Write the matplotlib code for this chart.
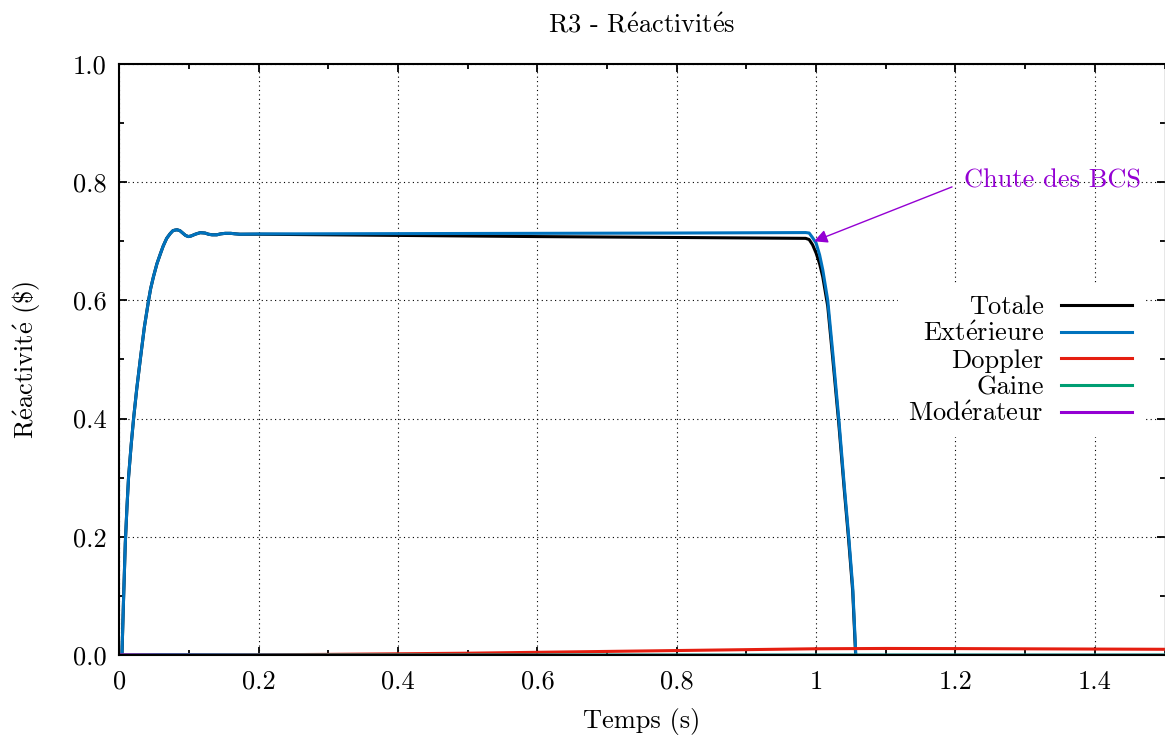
import numpy as np
import matplotlib
matplotlib.use("Agg")
import matplotlib.pyplot as plt
from matplotlib.ticker import MultipleLocator, FuncFormatter

# series (time in s, reactivity in $)
t_main = [0.0, 0.0038, 0.006, 0.0086, 0.011, 0.0133, 0.017, 0.0205, 0.025, 0.030,
          0.036, 0.042, 0.045, 0.049, 0.054, 0.059, 0.063, 0.068, 0.073, 0.077,
          0.080, 0.083, 0.087, 0.091, 0.095, 0.099, 0.103, 0.109, 0.116, 0.123,
          0.128, 0.133, 0.140, 0.145, 0.152, 0.160, 0.165, 0.173, 0.2, 0.4, 0.6,
          0.8, 0.985, 0.990, 0.995, 1.0, 1.005, 1.0095, 1.0167, 1.024, 1.0325,
          1.0405, 1.0468, 1.0525, 1.057, 1.065]
ext = [0.0, 0.0, 0.09, 0.189, 0.25, 0.301, 0.355, 0.400, 0.45, 0.499,
       0.555, 0.600, 0.62, 0.640, 0.662, 0.679, 0.692, 0.705, 0.713, 0.718,
       0.719, 0.7195, 0.718, 0.714, 0.710, 0.708, 0.709, 0.712, 0.7146, 0.714,
       0.712, 0.711, 0.711, 0.7125, 0.7135, 0.7135, 0.7128, 0.712, 0.7125, 0.713, 0.7135,
       0.714, 0.7148, 0.714, 0.706, 0.697, 0.677, 0.652, 0.600, 0.510, 0.400,
       0.285, 0.200, 0.115, 0.0, -0.15]
totale = [0.0, 0.0, 0.09, 0.189, 0.25, 0.301, 0.355, 0.400, 0.45, 0.499,
          0.555, 0.600, 0.62, 0.640, 0.662, 0.679, 0.692, 0.705, 0.713, 0.718,
          0.719, 0.7195, 0.718, 0.714, 0.710, 0.708, 0.709, 0.712, 0.7146, 0.714,
          0.712, 0.711, 0.711, 0.7125, 0.7135, 0.7135, 0.7128, 0.712, 0.712, 0.710, 0.708,
          0.7065, 0.705, 0.703, 0.694, 0.680, 0.662, 0.640, 0.590, 0.500, 0.392,
          0.278, 0.193, 0.108, -0.008, -0.16]

t_slow = [0.0, 0.06, 0.13, 0.2, 0.3, 0.4, 0.5, 0.6, 0.7, 0.8, 0.9, 1.0, 1.1, 1.2, 1.3, 1.4, 1.5]
doppler = [0.0, 0.0, 0.0, 0.0003, 0.001, 0.002, 0.003, 0.0045, 0.006, 0.0075, 0.009,
           0.0105, 0.011, 0.0108, 0.0104, 0.0100, 0.0096]
gaine = [0.0, 0.0006, 0.0004, 0.0001, 0.0, 0.0, 0.0, 0.0, 0.0, 0.0, 0.0,
         0.0, 0.0, 0.0, 0.0, 0.0, 0.0]
moderateur = [0.0, -0.0002, -0.0004, -0.0006, -0.0008, -0.0008, -0.0008, -0.0008, -0.0008,
              -0.0008, -0.0008, -0.0008, -0.0008, -0.0008, -0.0008, -0.0008, -0.0008]

plt.rcParams['font.family'] = ['cmr10', 'DejaVu Serif']
plt.rcParams['font.size'] = 19
plt.rcParams['axes.formatter.use_mathtext'] = True
plt.rcParams['mathtext.fontset'] = 'cm'


def tex(s):
    # cmr10 has no é, so draw it through mathtext with the same font
    return s.replace('$', r'\$').replace('é', r'$\mathrm{\acute{e}}$')


fig = plt.figure(figsize=(11.65, 7.36), dpi=100)
ax = fig.add_axes([0.1024, 0.1101, 0.8972, 0.8029])

ax.plot(t_main, totale, color='black', lw=2.2, label='Totale')
ax.plot(t_main, ext, color='#0072bd', lw=2.2, label=tex('Extérieure'))
ax.plot(t_slow, doppler, color='#e51e10', lw=2.2, label='Doppler')
ax.plot(t_slow, gaine, color='#009e73', lw=2.2, label='Gaine')
ax.plot(t_slow, moderateur, color='#9400d3', lw=2.2, label=tex('Modérateur'))

ax.set_xlim(0, 1.5)
ax.set_ylim(0, 1.0)
ax.xaxis.set_major_locator(MultipleLocator(0.2))
ax.xaxis.set_minor_locator(MultipleLocator(0.1))
ax.yaxis.set_major_locator(MultipleLocator(0.2))
ax.yaxis.set_minor_locator(MultipleLocator(0.1))
ax.xaxis.set_major_formatter(FuncFormatter(lambda v, p: '%g' % round(v, 3)))
ax.yaxis.set_major_formatter(FuncFormatter(lambda v, p: '%.1f' % v))

ax.tick_params(which='both', direction='in', top=True, right=True, width=1.3)
ax.tick_params(which='major', length=6, pad=9)
ax.tick_params(axis='x', which='major', pad=11)
ax.tick_params(which='minor', length=3.5)
ax.grid(True, which='major', color='black', linestyle=(0, (1, 3)), lw=0.8)
for s in ax.spines.values():
    s.set_linewidth(1.5)
ax.spines['right'].set_color('#888888')
ax.spines['right'].set_linewidth(1.0)

ax.set_title(tex('R3 - Réactivités'), fontsize=19, pad=23)
ax.set_xlabel('Temps (s)', labelpad=10)
ax.set_ylabel(tex('Réactivité ($)'), labelpad=22)

ax.annotate('Chute des BCS', xy=(0.997, 0.700), xytext=(1.212, 0.802),
            color='#9400d3', ha='left', va='center',
            arrowprops=dict(arrowstyle='-|>', color='#9400d3', lw=1.0,
                            mutation_scale=20, relpos=(0, 0.45),
                            shrinkA=7, shrinkB=0))

leg = ax.legend(loc='upper right', bbox_to_anchor=(0.979, 0.626), markerfirst=False,
                frameon=True, fancybox=False, framealpha=1, facecolor='white',
                edgecolor='none', handlelength=2.7, handletextpad=0.65,
                labelspacing=0.1, borderpad=0.4, borderaxespad=0)

fig.savefig('out.png', dpi=100)
